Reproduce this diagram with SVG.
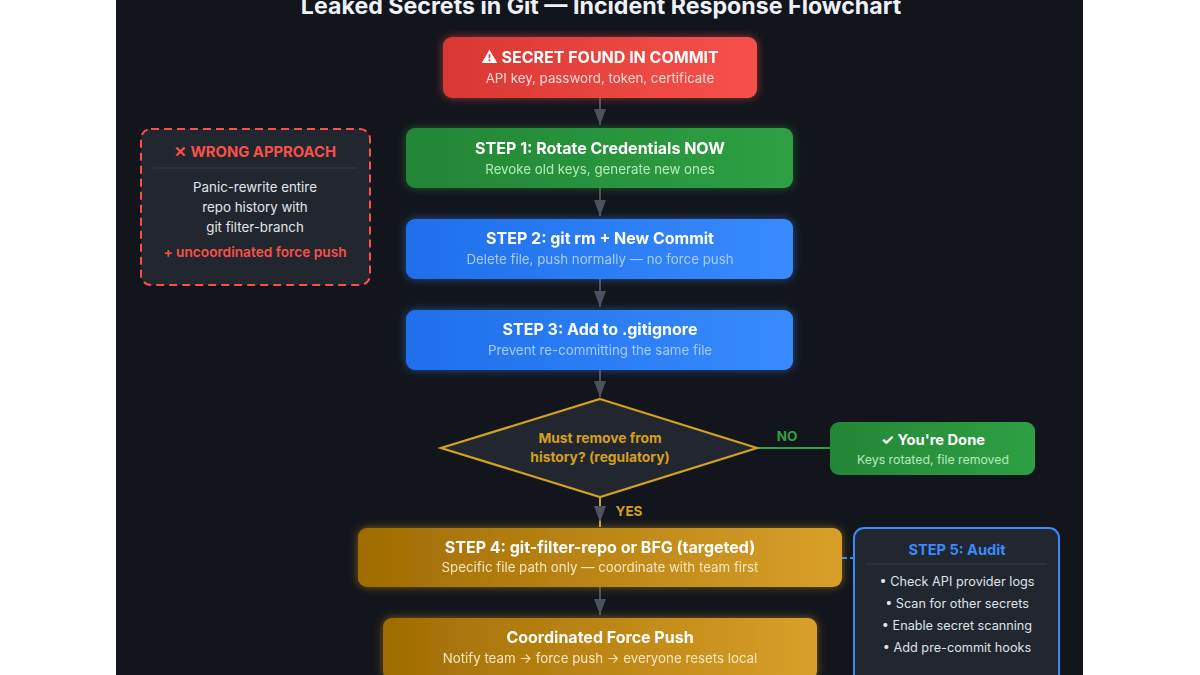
<svg xmlns="http://www.w3.org/2000/svg" width="1200" height="675" viewBox="0 0 1200 675">
<defs>
<linearGradient id="gRed" x1="0" y1="0" x2="1" y2="0"><stop offset="0" stop-color="#d93733"/><stop offset="1" stop-color="#f7514c"/></linearGradient>
<linearGradient id="gGreen" x1="0" y1="0" x2="1" y2="0"><stop offset="0" stop-color="#238636"/><stop offset="1" stop-color="#2ea043"/></linearGradient>
<linearGradient id="gBlue" x1="0" y1="0" x2="1" y2="0"><stop offset="0" stop-color="#1f6feb"/><stop offset="1" stop-color="#388bfd"/></linearGradient>
<linearGradient id="gAmber" x1="0" y1="0" x2="1" y2="0"><stop offset="0" stop-color="#a06c02"/><stop offset="1" stop-color="#d8a02a"/></linearGradient>
<filter id="glowRed" x="-20%" y="-40%" width="140%" height="180%"><feDropShadow dx="0" dy="0" stdDeviation="4" flood-color="#f85149" flood-opacity="0.55"/></filter>
<filter id="glowGreen" x="-20%" y="-40%" width="140%" height="180%"><feDropShadow dx="0" dy="0" stdDeviation="4" flood-color="#2ea043" flood-opacity="0.5"/></filter>
<filter id="glowBlue" x="-20%" y="-40%" width="140%" height="180%"><feDropShadow dx="0" dy="0" stdDeviation="4" flood-color="#388bfd" flood-opacity="0.5"/></filter>
<filter id="glowAmber" x="-20%" y="-40%" width="140%" height="180%"><feDropShadow dx="0" dy="0" stdDeviation="4" flood-color="#d29922" flood-opacity="0.55"/></filter>
<marker id="arr" viewBox="0 0 16 12" refX="16" refY="6" markerWidth="16" markerHeight="12" markerUnits="userSpaceOnUse" orient="auto">
<path d="M0,0 L16,6 L0,12 Z" fill="#4c535f"/>
</marker>
<style>
text{font-family:Inter,"Noto Sans","Liberation Sans",sans-serif;text-anchor:middle}
.t{font-size:16px;font-weight:700;fill:#ffffff}
.s{font-size:13.3px;font-weight:400}
.conn{stroke:#4c535f;stroke-width:2;fill:none}
.panel{fill:#22262e}
.body{font-size:13.3px;fill:#e2e6ec}
.bul{font-size:12.7px;fill:#dfe3ea}
</style>
</defs>
<rect x="0" y="0" width="1200" height="675" fill="#ffffff"/>
<rect x="116" y="0" width="967" height="675" fill="#12151c"/>
<text x="601" y="14" style="font-size:23.2px;font-weight:700;fill:#eef1f7">Leaked Secrets in Git — Incident Response Flowchart</text>

<g id="connectors">
<line class="conn" x1="600" y1="98" x2="600" y2="125" marker-end="url(#arr)"/>
<line class="conn" x1="600" y1="188" x2="600" y2="216" marker-end="url(#arr)"/>
<line class="conn" x1="600" y1="279" x2="600" y2="307" marker-end="url(#arr)"/>
<line class="conn" x1="600" y1="370" x2="600" y2="397" marker-end="url(#arr)"/>
<line x1="600" y1="497" x2="600" y2="527" stroke="#d4a020" stroke-width="2"/>
<line x1="600" y1="505" x2="600" y2="522" stroke="none" marker-end="url(#arr)"/>
<line class="conn" x1="600" y1="587" x2="600" y2="615" marker-end="url(#arr)"/>
<line x1="757" y1="448" x2="830" y2="448" stroke="#2ea043" stroke-width="2"/>
<text x="787" y="441" style="font-size:13.5px;font-weight:700;fill:#2ea043">NO</text>
<text x="629" y="516" style="font-size:13.5px;font-weight:700;fill:#d4a020">YES</text>
<line x1="842" y1="558" x2="854" y2="558" stroke="#388bfd" stroke-width="2" stroke-dasharray="5,3"/>
</g>

<g id="wrong">
<rect x="141" y="129" width="229" height="156" rx="10" class="panel" stroke="#f85149" stroke-width="2" stroke-dasharray="8,5"/>
<text x="255" y="157" style="font-size:14.8px;font-weight:700;fill:#f85149">✕ WRONG APPROACH</text>
<line x1="153" y1="168" x2="358" y2="168" stroke="#343a45" stroke-width="1"/>
<text x="255" y="192" class="body">Panic-rewrite entire</text>
<text x="255" y="212" class="body">repo history with</text>
<text x="255" y="232" class="body">git filter-branch</text>
<text x="255" y="257" style="font-size:13.7px;font-weight:600;fill:#f85149">+ uncoordinated force push</text>
</g>

<g id="secret" filter="url(#glowRed)">
<rect x="443" y="37" width="314" height="61" rx="9" fill="url(#gRed)"/>
<text x="600" y="63" class="t">⚠ SECRET FOUND IN COMMIT</text>
<text x="600" y="83" class="s" fill="#ffd9d7">API key, password, token, certificate</text>
</g>

<g id="step1" filter="url(#glowGreen)">
<rect x="406" y="128" width="387" height="60" rx="9" fill="url(#gGreen)"/>
<text x="600" y="154" class="t">STEP 1: Rotate Credentials NOW</text>
<text x="600" y="174" class="s" fill="#b4ecbc">Revoke old keys, generate new ones</text>
</g>

<g id="step2" filter="url(#glowBlue)">
<rect x="406" y="219" width="387" height="60" rx="9" fill="url(#gBlue)"/>
<text x="600" y="244" class="t">STEP 2: git rm + New Commit</text>
<text x="600" y="264" class="s" fill="#a9cbff">Delete file, push normally — no force push</text>
</g>

<g id="step3" filter="url(#glowBlue)">
<rect x="406" y="310" width="387" height="60" rx="9" fill="url(#gBlue)"/>
<text x="600" y="335" class="t">STEP 3: Add to .gitignore</text>
<text x="600" y="355" class="s" fill="#a9cbff">Prevent re-committing the same file</text>
</g>

<g id="decision">
<polygon points="600,399 757,448 600,497 441,448" fill="#22262e" stroke="#d4a020" stroke-width="2.2"/>
<text x="600" y="443" style="font-size:13.8px;font-weight:700;fill:#d4a020">Must remove from</text>
<text x="600" y="462" style="font-size:13.8px;font-weight:700;fill:#d4a020">history? (regulatory)</text>
</g>

<g id="done">
<rect x="830" y="422" width="205" height="53" rx="9" fill="url(#gGreen)"/>
<text x="933" y="445" style="font-size:14.7px;font-weight:700;fill:#ffffff">✓ You're Done</text>
<text x="933" y="464" style="font-size:12.3px;fill:#b4ecbc">Keys rotated, file removed</text>
</g>

<g id="step4" filter="url(#glowAmber)">
<rect x="358" y="528" width="484" height="59" rx="9" fill="url(#gAmber)"/>
<text x="600" y="553" class="t">STEP 4: git-filter-repo or BFG (targeted)</text>
<text x="600" y="572" class="s" fill="#fbe7c0">Specific file path only — coordinate with team first</text>
</g>

<g id="force" filter="url(#glowAmber)">
<rect x="383" y="618" width="434" height="62" rx="9" fill="url(#gAmber)"/>
<text x="600" y="643" class="t">Coordinated Force Push</text>
<text x="600" y="663" class="s" fill="#fbe7c0">Notify team → force push → everyone resets local</text>
</g>

<g id="step5">
<rect x="854" y="528" width="205" height="160" rx="10" class="panel" stroke="#388bfd" stroke-width="2"/>
<text x="957" y="555" style="font-size:14.6px;font-weight:700;fill:#388bfd">STEP 5: Audit</text>
<line x1="866" y1="564" x2="1047" y2="564" stroke="#343a45" stroke-width="1"/>
<text x="957" y="586" class="bul">• Check API provider logs</text>
<text x="957" y="608" class="bul">• Scan for other secrets</text>
<text x="957" y="630" class="bul">• Enable secret scanning</text>
<text x="957" y="652" class="bul">• Add pre-commit hooks</text>
</g>
</svg>
